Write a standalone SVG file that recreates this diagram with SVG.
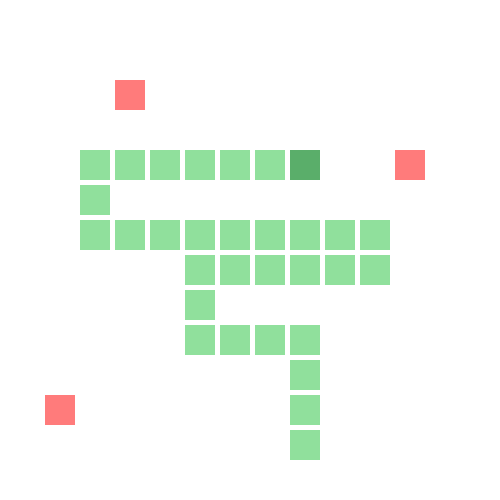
<svg xmlns="http://www.w3.org/2000/svg" width="500" height="500" viewBox="0 0 500 500">
<style>
.c{fill:#90e09c}
.h{fill:#5aae6a}
.r{fill:#ff7b7b}
</style>
<defs><rect id="s" width="30" height="30"/></defs>
<rect width="500" height="500" fill="#fff"/>
<g id="walls">
<use href="#s" class="r" x="115" y="80"/>
<use href="#s" class="r" x="395" y="150"/>
<use href="#s" class="r" x="45" y="395"/>
</g>
<g id="snake">
<use href="#s" class="c" x="80" y="150"/>
<use href="#s" class="c" x="115" y="150"/>
<use href="#s" class="c" x="150" y="150"/>
<use href="#s" class="c" x="185" y="150"/>
<use href="#s" class="c" x="220" y="150"/>
<use href="#s" class="c" x="255" y="150"/>
<use href="#s" class="h" x="290" y="150"/>
<use href="#s" class="c" x="80" y="185"/>
<use href="#s" class="c" x="80" y="220"/>
<use href="#s" class="c" x="115" y="220"/>
<use href="#s" class="c" x="150" y="220"/>
<use href="#s" class="c" x="185" y="220"/>
<use href="#s" class="c" x="220" y="220"/>
<use href="#s" class="c" x="255" y="220"/>
<use href="#s" class="c" x="290" y="220"/>
<use href="#s" class="c" x="325" y="220"/>
<use href="#s" class="c" x="360" y="220"/>
<use href="#s" class="c" x="185" y="255"/>
<use href="#s" class="c" x="220" y="255"/>
<use href="#s" class="c" x="255" y="255"/>
<use href="#s" class="c" x="290" y="255"/>
<use href="#s" class="c" x="325" y="255"/>
<use href="#s" class="c" x="360" y="255"/>
<use href="#s" class="c" x="185" y="290"/>
<use href="#s" class="c" x="185" y="325"/>
<use href="#s" class="c" x="220" y="325"/>
<use href="#s" class="c" x="255" y="325"/>
<use href="#s" class="c" x="290" y="325"/>
<use href="#s" class="c" x="290" y="360"/>
<use href="#s" class="c" x="290" y="395"/>
<use href="#s" class="c" x="290" y="430"/>
</g>
</svg>
